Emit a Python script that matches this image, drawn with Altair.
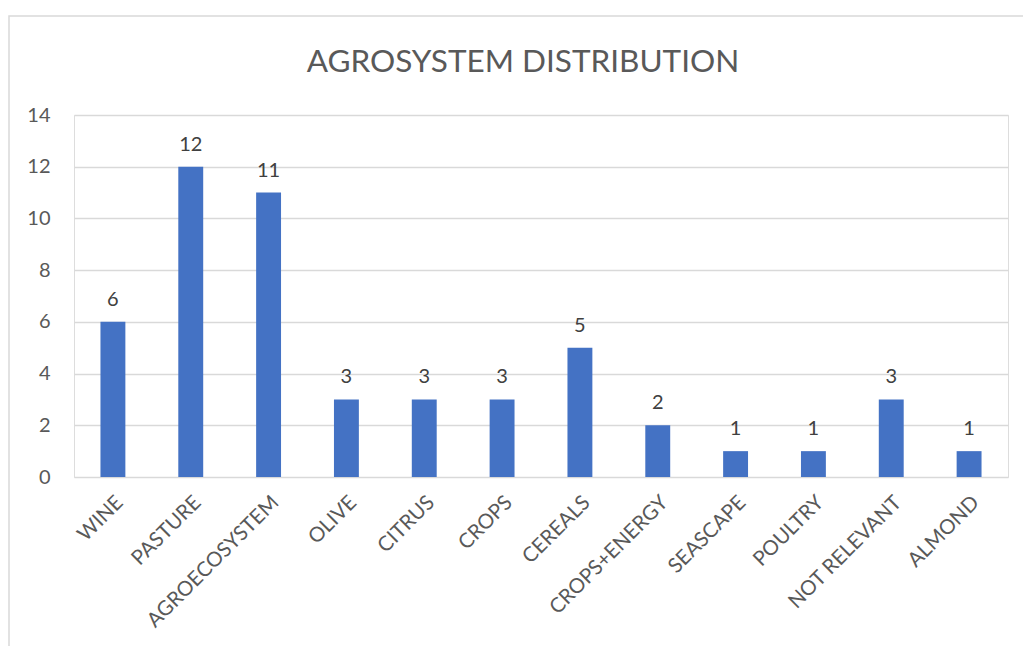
import altair as alt
import pandas as pd

categories = ["WINE", "PASTURE", "AGROECOSYSTEM", "OLIVE", "CITRUS", "CROPS",
              "CEREALS", "CROPS+ENERGY", "SEASCAPE", "POULTRY", "NOT RELEVANT", "ALMOND"]
counts = [6, 12, 11, 3, 3, 3, 5, 2, 1, 1, 3, 1]
y_ticks = [0, 2, 4, 6, 8, 10, 12, 14]
title_text = "AGROSYSTEM DISTRIBUTION"

df = pd.DataFrame({"category": categories, "count": counts})
title_df = pd.DataFrame({"t": [title_text]})

FONT = "Lato"
W, H = 934, 362

x = alt.X("category:N", sort=categories, title=None,
          scale=alt.Scale(paddingInner=0.68, paddingOuter=0.34),
          axis=alt.Axis(labelAngle=-45, labelAlign="right", labelBaseline="top",
                        labelFontSize=20.5, labelColor="#595959", labelFont=FONT,
                        domain=False, ticks=False, tickSize=0, labelPadding=15,
                        grid=False))
y = alt.Y("count:Q", title=None,
          scale=alt.Scale(domain=[0, 14], nice=False),
          axis=alt.Axis(values=y_ticks, labelFontSize=20, labelColor="#595959",
                        labelFont=FONT, domain=False, ticks=False, tickSize=0,
                        labelPadding=24, grid=True, gridColor="#d9d9d9",
                        gridWidth=1.5))

frame = alt.Chart(title_df).mark_rect(fill=None, stroke="#d9d9d9", strokeWidth=1.5).encode(
    x=alt.value(-65), x2=alt.value(W + 40), y=alt.value(-99), y2=alt.value(H + 200)
)

title = alt.Chart(title_df).mark_text(fontSize=31.5, font=FONT, color="#595959",
                                      baseline="alphabetic", align="center").encode(
    x=alt.value(W / 2 - 18), y=alt.value(-43), text="t:N"
)

bars = alt.Chart(df).mark_bar(color="#4472C4").encode(x=x, y=y)

labels = alt.Chart(df).mark_text(dy=-16, fontSize=20, color="#404040", font=FONT,
                                 baseline="alphabetic").encode(
    x=alt.X("category:N", sort=categories),
    y="count:Q",
    text="count:Q",
)

chart = alt.layer(frame, title, bars, labels).properties(
    width=W, height=H,
    autosize=alt.AutoSizeParams(type="none"),
    padding={"left": 74, "top": 115, "right": 15, "bottom": 169},
).configure_view(stroke=None).configure(background="white")

chart.save("out.html", embed_options={"renderer": "svg", "actions": False})
